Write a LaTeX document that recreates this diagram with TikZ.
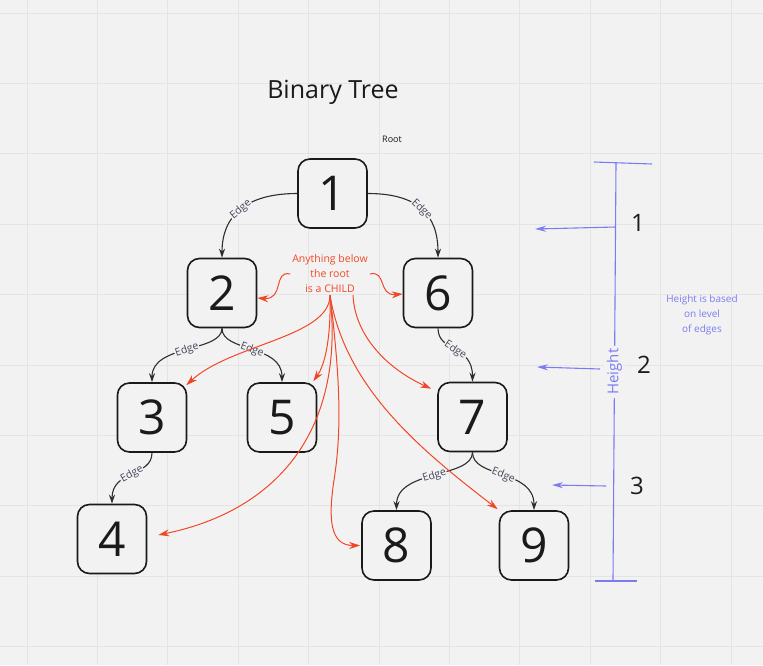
\documentclass[tikz,border=0pt]{standalone}
\usepackage{fontspec}
\setmainfont{Open Sans}
\usetikzlibrary{arrows.meta}
\definecolor{bg}{HTML}{F2F2F2}
\definecolor{gridc}{HTML}{E4E4E4}
\definecolor{ink}{HTML}{1A1A1A}
\definecolor{edgec}{HTML}{2E2E2E}
\definecolor{lbl}{HTML}{45455A}
\definecolor{redc}{HTML}{F24726}
\definecolor{bluec}{HTML}{7B7CF2}
\begin{document}
\begin{tikzpicture}[x=1pt,y=-1pt,
 box/.style={draw=ink, line width=1.6pt, rounded corners=12pt, minimum width=69pt, minimum height=69pt, inner sep=0pt, font=\fontsize{48}{48}\selectfont, text=ink, fill=bg},
 tedge/.style={draw=edgec, line width=1.1pt, -{Stealth[length=9pt,width=6pt]}},
 elab/.style={sloped, fill=bg, inner sep=0.8pt, text=lbl, font=\fontsize{10.5}{11}\selectfont},
 redarrow/.style={draw=redc, line width=1pt, -{Stealth[length=11pt,width=7pt]}},
 blueline/.style={draw=bluec, line width=1.1pt},
 bluearrow/.style={blueline, -{Stealth[length=11pt,width=6pt]}},
 num/.style={font=\fontsize{24}{24}\selectfont, text=ink},
]
% background and grid
\fill[bg] (0,0) rectangle (763,665);
\useasboundingbox (0,0) rectangle (763,665);
\foreach \i in {0,...,10} \draw[gridc, line width=1pt] ({27+70.4*\i},0) -- ({27+70.4*\i},665);
\foreach \i in {0,...,9} \draw[gridc, line width=1pt] (0,{13+70.4*\i}) -- (763,{13+70.4*\i});

% title
\node[text=ink, font=\fontsize{25}{25}\selectfont] (title) at (333,92) {Binary Tree};
\node[text=ink, font=\fontsize{9}{9}\selectfont] (root) at (392,139) {Root};

% nodes
\node[box] (n1) at (332.5,193.5) {1};
\node[box] (n2) at (222,293) {2};
\node[box] (n6) at (438,293) {6};
\node[box] (n3) at (152,417.5) {3};
\node[box] (n5) at (282,417.5) {5};
\node[box] (n7) at (472.5,417) {7};
\node[box] (n4) at (112,539) {4};
\node[box] (n8) at (396.5,545.5) {8};
\node[box] (n9) at (534,545.5) {9};

% tree edges
\draw[tedge] (n1.west) .. controls +(-50,0) and +(0,-43) .. (n2.north) node[elab,pos=0.5] {Edge};
\draw[tedge] (n1.east) .. controls +(50,0) and +(0,-43) .. (n6.north) node[elab,pos=0.5] {Edge};
\draw[tedge] (n2.south) .. controls +(0,24) and +(0,-38) .. (n3.north) node[elab,pos=0.5] {Edge};
\draw[tedge] (n2.south) .. controls +(0,24) and +(0,-38) .. (n5.north) node[elab,pos=0.5] {Edge};
\draw[tedge] (n6.south) .. controls +(0,24) and +(0,-37) .. (n7.north) node[elab,pos=0.5] {Edge};
\draw[tedge] (n3.south) .. controls +(0,24) and +(0,-34) .. (n4.north) node[elab,pos=0.5] {Edge};
\draw[tedge] (n7.south) .. controls +(0,26) and +(0,-41) .. (n8.north) node[elab,pos=0.5] {Edge};
\draw[tedge] (n7.south) .. controls +(0,26) and +(0,-41) .. (n9.north) node[elab,pos=0.5] {Edge};

% child note
\node[text=redc, align=center, inner sep=2pt, font=\fontsize{10.5}{15}\selectfont] (child) at (330,274) {Anything below\\the root\\is a CHILD};
\coordinate (m8) at (334,480);
\draw[redarrow] (child.west) .. controls +(-17,-4) and +(27,2) .. ([yshift=-5pt]n2.east);
\draw[redarrow] (child.east) .. controls +(17,-4) and +(-25,2) .. ([yshift=-1pt]n6.west);
\draw[redarrow] (child.south) .. controls +(0,42) and +(44,-41) .. ([xshift=-1pt,yshift=-3pt]n3.north east);
\draw[redarrow] (child.south) .. controls +(1,42) and +(12,-17) .. ([xshift=-4pt,yshift=1pt]n5.north east);
\draw[redarrow] (child.south) .. controls +(15,132) and +(122,-25) .. ([xshift=11pt,yshift=4pt]n4.east);
\draw[redarrow] (child.south) .. controls +(10,82) and +(8,-50) .. (m8) .. controls +(-6,40) and +(-30,0) .. ([xshift=-1pt]n8.west);
\draw[redarrow] (child.south) .. controls +(15,92) and +(-78,-60) .. ([xshift=-1pt,yshift=1pt]n9.north west);
\draw[redarrow] ([xshift=23pt]child.south) .. controls +(2,42) and +(-42,-19) .. ([xshift=-6pt,yshift=-7pt]n7.north west);

% height ruler
\coordinate (rt) at (616,163);
\coordinate (rb) at (613,580);
\draw[blueline] (rt) -- node[fill=bg, rotate=90, text=bluec, inner sep=3pt, font=\fontsize{15}{15}\selectfont] (hl) {Height} (rb);
\draw[blueline] (594,162) -- (652,164);
\draw[blueline] (595,581) -- (637,581);
\coordinate (a1s) at (615.5,227); \coordinate (a1e) at (535,229);
\coordinate (a2s) at (600,369); \coordinate (a2e) at (537,367);
\coordinate (a3s) at (606,486); \coordinate (a3e) at (552,485);
\draw[bluearrow] (a1s) -- (a1e);
\draw[bluearrow] (a2s) -- (a2e);
\draw[bluearrow] (a3s) -- (a3e);
\node[num] (h1) at (638,223) {1};
\node[num] (h2) at (644,365) {2};
\node[num] (h3) at (637,486) {3};
\node[text=bluec, align=center, font=\fontsize{10}{15}\selectfont] (hnote) at (702,315) {Height is based\\on level\\of edges};
\end{tikzpicture}
\end{document}
